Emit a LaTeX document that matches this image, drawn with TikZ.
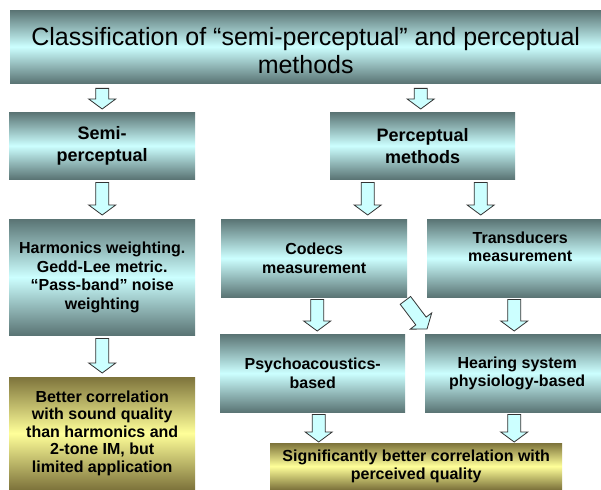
\documentclass[tikz,border=0pt]{standalone}
\usepackage{fontspec}
\setmainfont{Liberation Sans}
\usetikzlibrary{calc}
\definecolor{tealdark}{HTML}{5A7474}
\definecolor{cyanlight}{HTML}{CCFFFF}
\definecolor{olivedark}{HTML}{7E743C}
\definecolor{yellowlight}{HTML}{FFFF99}
\definecolor{arrowline}{HTML}{333333}
\tikzset{
  box/.style={anchor=north west, inner sep=0pt, align=center,
    font=\bfseries\fontsize{16}{18.5}\selectfont,
    top color=tealdark, bottom color=tealdark, middle color=cyanlight},
  bigbox/.style={box, font=\bfseries\fontsize{18}{22}\selectfont},
  ybox/.style={box, top color=olivedark, bottom color=olivedark, middle color=yellowlight,
    font=\bfseries\fontsize{16}{17.5}\selectfont},
  titlebox/.style={box, font=\fontsize{25}{28}\selectfont},
  barrowsty/.style={draw=arrowline, fill=cyanlight, line width=0.8pt, line join=miter},
}
\newcommand\barrow[2]{%
  \coordinate (ba) at #1;
  \coordinate (bb) at #2;
  \coordinate (bc) at ($(bb)!10pt!(ba)$);
  \draw[barrowsty] ($(ba)!6.5pt!90:(bb)$) -- ($(bc)!6.5pt!90:(bb)$)
    -- ($(bc)!13.5pt!90:(bb)$) -- (bb) -- ($(bc)!13.5pt!-90:(bb)$)
    -- ($(bc)!6.5pt!-90:(bb)$) -- ($(ba)!6.5pt!-90:(bb)$) -- cycle;
}
\begin{document}
\begin{tikzpicture}[x=1pt,y=-1pt]
\useasboundingbox (0,0) rectangle (601,489);
\fill[white] (0,0) rectangle (601,489);

\node[titlebox, minimum width=591pt, minimum height=73pt] (title) at (10,10)
  {\\[-2pt]Classification of “semi-perceptual” and perceptual\\methods};
\node[bigbox, minimum width=186pt, minimum height=67pt] (semi) at (9,112) {Semi-\\perceptual};
\node[bigbox, minimum width=185pt, minimum height=67pt] (perc) at (330,112) {Perceptual\\methods};
\node[box, minimum width=186pt, minimum height=116pt] (harm) at (9,219)
  {Harmonics weighting.\\Gedd-Lee metric.\\“Pass-band” noise\\weighting};
\node[box, minimum width=186pt, minimum height=78pt] (codecs) at (221,219) {Codecs\\measurement};
\node[box, minimum width=174pt, minimum height=78pt] (trans) at (427,219) {\hspace*{12pt}Transducers\\\hspace*{12pt}measurement\\[4pt]};
\node[box, minimum width=185pt, minimum height=78pt] (psycho) at (220,334) {Psychoacoustics-\\based};
\node[box, minimum width=176pt, minimum height=78pt] (hearing) at (425,334) {\hspace*{8pt}Hearing system\\\hspace*{8pt}physiology-based};
\node[ybox, minimum width=186pt, minimum height=112pt] (better) at (9,377)
  {Better correlation\\with sound quality\\than harmonics and\\2-tone IM, but\\limited application};
\node[ybox, minimum width=292pt, minimum height=46pt] (signif) at (270,443)
  {Significantly better correlation with\\perceived quality};

\barrow{($(title.south -| semi.north)+(0,5)$)}{($(semi.north)+(0,-3)$)}
\barrow{($(title.south -| perc.north)+(-2,5)$)}{($(perc.north)+(-2,-3)$)}
\barrow{($(semi.south)+(0,3)$)}{($(harm.north)+(0,-4)$)}
\barrow{($(perc.south)+(-55,3)$)}{($(codecs.north -| perc.south)+(-55,-4)$)}
\barrow{($(perc.south)+(58,3)$)}{($(trans.north -| perc.south)+(58,-4)$)}
\barrow{($(harm.south)+(0,3)$)}{($(better.north)+(0,-4)$)}
\barrow{($(codecs.south)+(3,2)$)}{($(psycho.north -| codecs.south)+(3,-3)$)}
\barrow{($(trans.south)+(0,2)$)}{($(hearing.north -| trans.south)+(0,-3)$)}
\barrow{($(codecs.south east)+(-2,3)$)}{($(hearing.north west)+(2,-5)$)}
\barrow{($(psycho.south)+(6,2)$)}{($(signif.north -| psycho.south)+(6,-1)$)}
\barrow{($(hearing.south)+(1,2)$)}{($(signif.north -| hearing.south)+(1,-1)$)}
\end{tikzpicture}
\end{document}
